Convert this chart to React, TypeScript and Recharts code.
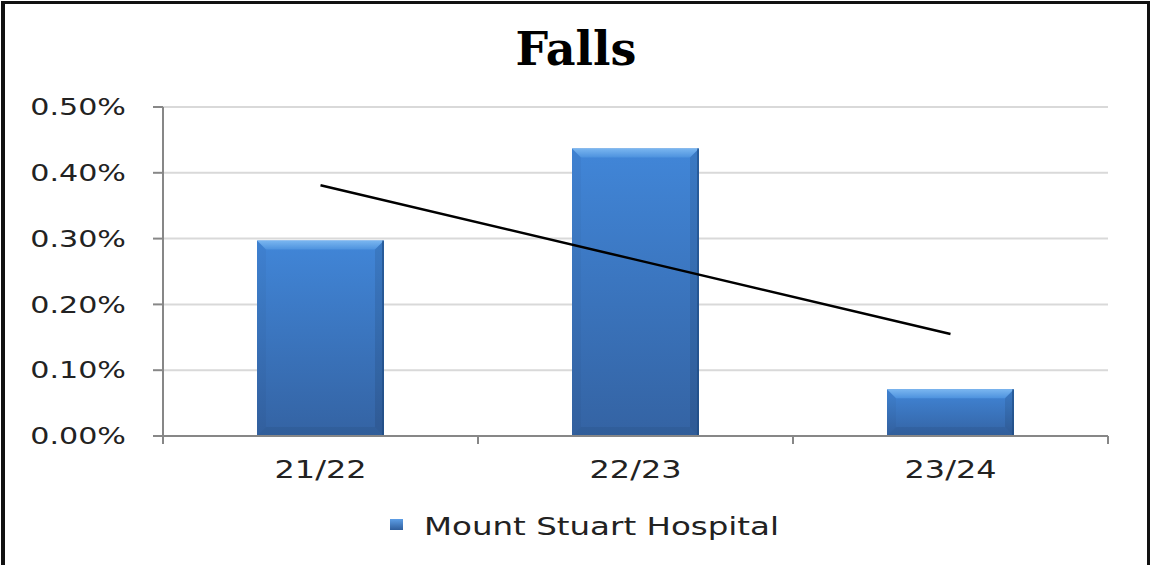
import React from 'react';
import { ComposedChart, Bar, Line, XAxis, YAxis, CartesianGrid, Legend } from 'recharts';

const categories = ['21/22', '22/23', '23/24'];
const fallsRate = [0.297, 0.437, 0.071];
const trendRate = [0.381, 0.268, 0.155];
const yTicks = [0, 0.1, 0.2, 0.3, 0.4, 0.5];
const seriesName = 'Mount Stuart Hospital';
const chartTitle = 'Falls';

const data = categories.map((c, i) => ({ cat: c, falls: fallsRate[i], trend: trendRate[i] }));

const W = 1152;
const H = 565;
const MARGIN = { top: 107, right: 44, left: 0, bottom: 89 };
const Y_AXIS_W = 163;
const BAND = (W - MARGIN.right - Y_AXIS_W) / categories.length;
const AXIS_COLOR = '#878787';

const YTick = (props: any) => {
  const { x, y, payload } = props;
  return (
    <text
      transform={`translate(${x},${y}) scale(1.31,1)`}
      textAnchor="end"
      dy="0.36em"
      fontFamily="DejaVu Sans"
      fontSize={23}
      fill="#222"
    >
      {`${Number(payload.value).toFixed(2)}%`}
    </text>
  );
};

const XTick = (props: any) => {
  const { x, y, payload, index } = props;
  return (
    <g>
      {index === 0 && (
        <line x1={x - BAND / 2} x2={x - BAND / 2} y1={y} y2={y + 8} stroke={AXIS_COLOR} strokeWidth={2} />
      )}
      <line x1={x + BAND / 2} x2={x + BAND / 2} y1={y} y2={y + 8} stroke={AXIS_COLOR} strokeWidth={2} />
      <text
        transform={`translate(${x},${y + 42}) scale(1.33,1)`}
        textAnchor="middle"
        fontFamily="DejaVu Sans"
        fontSize={24}
        fill="#222"
      >
        {payload.value}
      </text>
    </g>
  );
};

const BevelBar = (props: any) => {
  const { x, y, width, height } = props;
  if (!height || height <= 0) return null;
  const b = Math.min(9, height / 3);
  return (
    <g>
      <rect x={x} y={y} width={width} height={height} fill="url(#barGrad)" />
      <polygon
        points={`${x},${y} ${x + width},${y} ${x + width - b},${y + b} ${x + b},${y + b}`}
        fill="url(#topBevel)"
      />
      <polygon
        points={`${x},${y} ${x + b},${y + b} ${x + b},${y + height - b} ${x},${y + height}`}
        fill="#000"
        fillOpacity={0.03}
      />
      <polygon
        points={`${x + width},${y} ${x + width - b},${y + b} ${x + width - b},${y + height - b} ${x + width},${y + height}`}
        fill="#000"
        fillOpacity={0.09}
      />
      <polygon
        points={`${x},${y + height} ${x + b},${y + height - b} ${x + width - b},${y + height - b} ${x + width},${y + height}`}
        fill="#000"
        fillOpacity={0.06}
      />
      <rect x={x + width - 2} y={y} width={2} height={height} fill="#1d4a80" fillOpacity={0.6} />
    </g>
  );
};

const LegendContent = () => (
  <svg width={W} height={40} style={{ display: 'block' }}>
    <defs>
      <linearGradient id="legGrad" x1="0" y1="0" x2="0" y2="1">
        <stop offset="0%" stopColor="#5d9ee6" />
        <stop offset="100%" stopColor="#2f5e9c" />
      </linearGradient>
    </defs>
    <rect x={390} y={14} width={13} height={11} fill="url(#legGrad)" />
    <text
      transform="translate(424,30) scale(1.3,1)"
      fontFamily="DejaVu Sans"
      fontSize={25}
      fill="#222"
    >
      {seriesName}
    </text>
  </svg>
);

export default function App() {
  return (
    <div style={{ position: 'absolute', left: 0, top: 0, width: W, height: H, background: '#fff', overflow: 'hidden' }}>
      <ComposedChart width={W} height={H} data={data} margin={MARGIN}>
        <defs>
          <linearGradient id="barGrad" x1="0" y1="0" x2="0" y2="1">
            <stop offset="0%" stopColor="#4186d8" />
            <stop offset="100%" stopColor="#3463a3" />
          </linearGradient>
          <linearGradient id="topBevel" x1="0" y1="0" x2="0" y2="1">
            <stop offset="0%" stopColor="#7ab6f0" />
            <stop offset="100%" stopColor="#4d92de" />
          </linearGradient>
        </defs>
        <CartesianGrid vertical={false} stroke="#d9d9d9" strokeWidth={2} />
        <XAxis
          dataKey="cat"
          height={40}
          axisLine={{ stroke: AXIS_COLOR, strokeWidth: 2 }}
          tickLine={false}
          tickSize={0}
          tickMargin={0}
          tick={<XTick />}
          interval={0}
        />
        <YAxis
          width={Y_AXIS_W}
          domain={[0, 0.5]}
          ticks={yTicks}
          axisLine={{ stroke: AXIS_COLOR, strokeWidth: 2 }}
          tickLine={{ stroke: AXIS_COLOR, strokeWidth: 2 }}
          tickSize={10}
          tickMargin={27}
          tick={<YTick />}
          interval={0}
        />
        <Bar dataKey="falls" name={seriesName} barSize={127} shape={<BevelBar />} isAnimationActive={false} />
        <Line
          dataKey="trend"
          stroke="#000"
          strokeWidth={2.5}
          dot={false}
          activeDot={false}
          legendType="none"
          isAnimationActive={false}
        />
        <Legend
          layout="horizontal"
          verticalAlign="middle"
          align="center"
          wrapperStyle={{ top: 505, left: 0, width: W, height: 40 }}
          content={<LegendContent />}
        />
      </ComposedChart>
      <svg width={W} height={90} style={{ position: 'absolute', left: 0, top: 0, pointerEvents: 'none' }}>
        <text x={576} y={65} textAnchor="middle" fontFamily="DejaVu Serif" fontWeight="bold" fontSize={46} fill="#000">
          {chartTitle}
        </text>
      </svg>
      <div
        style={{
          position: 'absolute',
          left: 1,
          top: 1,
          width: 1149,
          height: 570,
          boxSizing: 'border-box',
          borderLeft: '4px solid #111',
          borderTop: '3px solid #111',
          borderRight: '3px solid #111',
          pointerEvents: 'none',
        }}
      />
    </div>
  );
}
